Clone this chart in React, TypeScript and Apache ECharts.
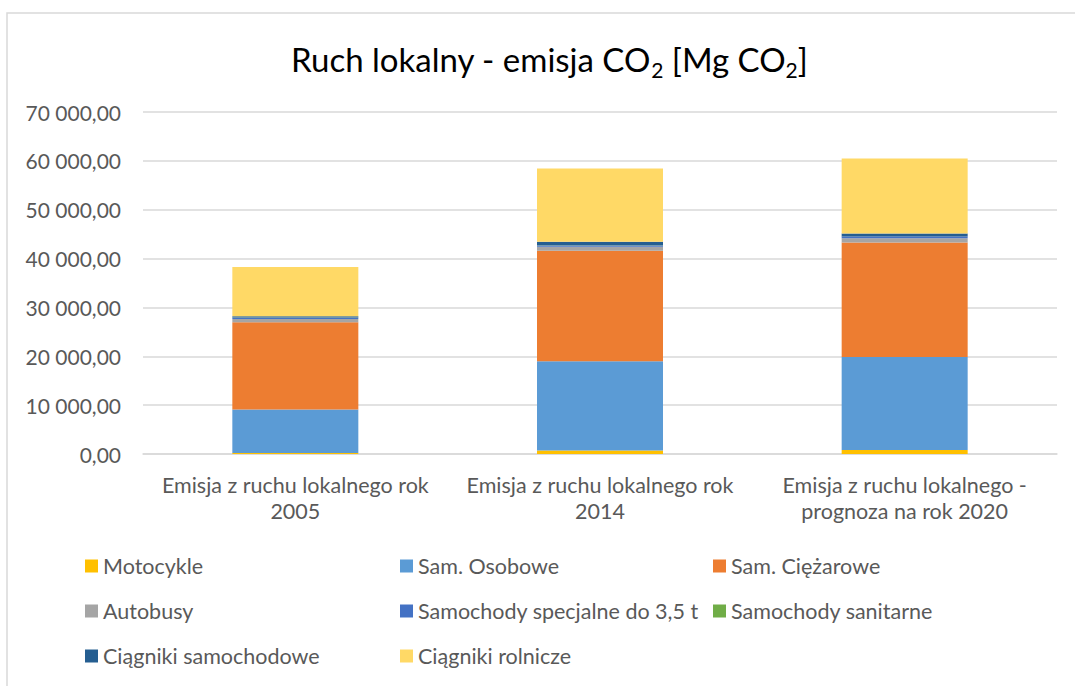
import React, { useEffect, useRef } from "react";
import * as echarts from "echarts";

const categories = [
  "Emisja z ruchu lokalnego rok\n2005",
  "Emisja z ruchu lokalnego rok\n2014",
  "Emisja z ruchu lokalnego -\nprognoza na rok 2020",
];

const seriesNames = [
  "Motocykle",
  "Sam. Osobowe",
  "Sam. Ciężarowe",
  "Autobusy",
  "Samochody specjalne do 3,5 t",
  "Samochody sanitarne",
  "Ciągniki samochodowe",
  "Ciągniki rolnicze",
];

const motocykle = [200, 700, 800];
const samOsobowe = [8900, 18300, 19050];
const samCiezarowe = [17850, 22600, 23450];
const autobusy = [700, 800, 850];
const specjalne = [250, 350, 350];
const sanitarne = [20, 30, 30];
const ciagnikiSamochodowe = [300, 650, 600];
const ciagnikiRolnicze = [10050, 15000, 15350];

const seriesValues = [
  motocykle,
  samOsobowe,
  samCiezarowe,
  autobusy,
  specjalne,
  sanitarne,
  ciagnikiSamochodowe,
  ciagnikiRolnicze,
];

const colors = [
  "#FFC000",
  "#5B9BD5",
  "#ED7D31",
  "#A5A5A5",
  "#4472C4",
  "#70AD47",
  "#255E91",
  "#FFD966",
];

const legendColumns = [
  ["Motocykle", "Autobusy", "Ciągniki samochodowe"],
  ["Sam. Osobowe", "Samochody specjalne do 3,5 t", "Ciągniki rolnicze"],
  ["Sam. Ciężarowe", "Samochody sanitarne"],
];
const legendLefts = [85, 400, 713];

const FONT = "Lato";

function fmt(v: number): string {
  const parts = v.toFixed(2).split(".");
  const int = parts[0].replace(/\B(?=(\d{3})+(?!\d))/g, " ");
  return int + "," + parts[1];
}

export default function App() {
  const ref = useRef<HTMLDivElement>(null);
  useEffect(() => {
    if (!ref.current) return;
    const chart = echarts.init(ref.current, undefined, { renderer: "svg" });
    chart.setOption({
      animation: false,
      backgroundColor: "#ffffff",
      color: colors,
      title: {
        text: "{a|Ruch lokalny - emisja CO}{s|2}{a| [Mg CO}{s|2}{a|]}",
        left: 286,
        top: 33,
        textStyle: {
          rich: {
            a: { fontSize: 33, fontFamily: FONT, fontWeight: "normal", color: "#000000", lineHeight: 42 },
            s: {
              fontSize: 21,
              fontFamily: FONT,
              fontWeight: "normal",
              color: "#000000",
              lineHeight: 20,
              padding: [12, 0, 0, 0],
              verticalAlign: "bottom",
            },
          },
        },
      },
      graphic: [
        {
          type: "rect",
          shape: { x: 7, y: 13, width: 1200, height: 800 },
          style: { fill: "none", stroke: "#d9d9d9", lineWidth: 1.5 },
          silent: true,
        },
      ],
      legend: legendColumns.map((col, i) => ({
        data: col,
        orient: "vertical",
        left: legendLefts[i],
        top: 555,
        padding: 0,
        icon: "rect",
        itemWidth: 13,
        itemHeight: 13,
        itemGap: 23,
        selectedMode: false,
        textStyle: {
          fontSize: 21.5,
          fontFamily: FONT,
          color: "#595959",
          lineHeight: 22,
        },
      })),
      grid: { left: 143, right: 18, top: 112, bottom: 232, containLabel: false },
      xAxis: {
        type: "category",
        data: categories,
        axisLine: { lineStyle: { color: "#d9d9d9", width: 1.5 } },
        axisTick: { show: false },
        axisLabel: {
          fontSize: 21.5,
          fontFamily: FONT,
          color: "#595959",
          lineHeight: 26,
          margin: 18,
          interval: 0,
        },
      },
      yAxis: {
        type: "value",
        min: 0,
        max: 70000,
        interval: 10000,
        axisLine: { show: false },
        axisTick: { show: false },
        splitLine: { lineStyle: { color: "#d9d9d9", width: 1.5 } },
        axisLabel: {
          fontSize: 21,
          fontFamily: FONT,
          color: "#595959",
          margin: 22,
          formatter: (v: number) => fmt(v),
        },
      },
      series: seriesNames.map((name, i) => ({
        name,
        type: "bar",
        stack: "total",
        barWidth: 126,
        data: seriesValues[i],
        itemStyle: { color: colors[i] },
      })),
    });
    return () => chart.dispose();
  }, []);
  return (
    <div
      ref={ref}
      style={{ position: "fixed", left: 0, top: 0, width: 1075, height: 686 }}
    />
  );
}
